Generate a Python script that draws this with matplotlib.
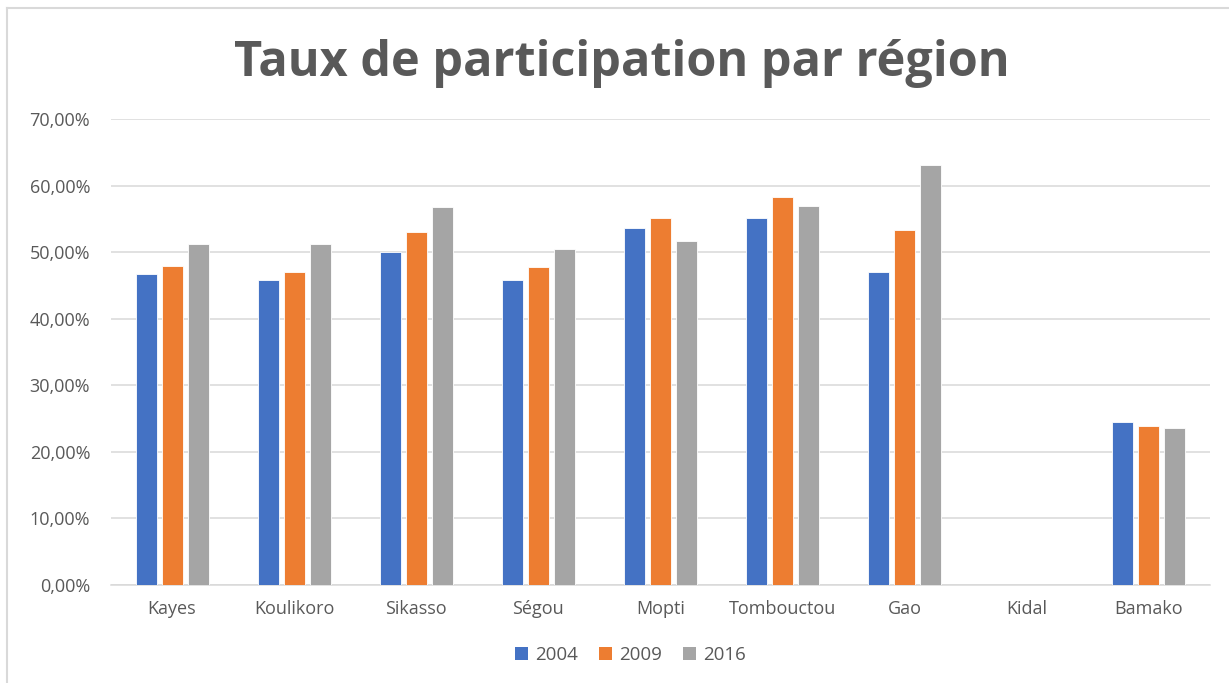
import numpy as np
import matplotlib.pyplot as plt
from matplotlib.ticker import FuncFormatter, MultipleLocator
from matplotlib.patches import Patch

regions = ['Kayes', 'Koulikoro', 'Sikasso', 'Ségou', 'Mopti', 'Tombouctou',
           'Gao', 'Kidal', 'Bamako']
years = ['2004', '2009', '2016']
taux_2004 = [0.467, 0.458, 0.500, 0.458, 0.536, 0.551, 0.470, np.nan, 0.245]
taux_2009 = [0.479, 0.470, 0.530, 0.478, 0.552, 0.583, 0.533, np.nan, 0.239]
taux_2016 = [0.512, 0.512, 0.568, 0.504, 0.517, 0.570, 0.631, np.nan, 0.236]

colors = ['#4472C4', '#ED7D31', '#A5A5A5']
text_color = '#595959'
grid_color = '#D9D9D9'

plt.rcParams['font.family'] = ['Open Sans', 'DejaVu Sans']

fig = plt.figure(figsize=(12.29, 6.83), dpi=100)
ax = fig.add_axes([0.0903, 0.1435, 0.8942, 0.6823])

x = np.arange(len(regions))
width = 0.172
step = 0.213
for i, (vals, c) in enumerate(zip([taux_2004, taux_2009, taux_2016], colors)):
    ax.bar(x + (i - 1) * step, vals, width, color=c, edgecolor='white',
           linewidth=0.6, zorder=3)

ax.set_xlim(-0.5, len(regions) - 0.5)
ax.set_ylim(0, 0.70)
ax.yaxis.set_major_locator(MultipleLocator(0.10))
ax.yaxis.set_major_formatter(FuncFormatter(lambda v, p: ('%.2f%%' % (v * 100)).replace('.', ',')))
ax.set_xticks(x)
ax.set_xticklabels(regions)

ax.grid(axis='y', color=grid_color, linewidth=1.1, zorder=0)
for s in ['top', 'right', 'left']:
    ax.spines[s].set_visible(False)
ax.spines['bottom'].set_color(grid_color)
ax.spines['bottom'].set_linewidth(1.1)
ax.tick_params(length=0, colors=text_color, labelsize=13)
ax.tick_params(axis='y', pad=15)
ax.tick_params(axis='x', pad=11)

fig.text(0.506, 1 - 76 / 683, 'Taux de participation par région', ha='center', va='baseline',
         fontsize=35, fontweight='bold', color=text_color)

handles = [Patch(facecolor=c, label=y) for c, y in zip(colors, years)]
fig.legend(handles=handles, loc='center', bbox_to_anchor=(0.513, 0.041), ncol=3,
           frameon=False, fontsize=13.5, labelcolor=text_color,
           handlelength=0.7, handleheight=0.7, handletextpad=0.4, columnspacing=1.1)

# chart frame (top and left edges visible)
fig.add_artist(plt.Line2D([7 / 1229, 1], [1 - 8 / 683, 1 - 8 / 683], color=grid_color,
                          linewidth=1.5, transform=fig.transFigure))
fig.add_artist(plt.Line2D([7 / 1229, 7 / 1229], [0, 1 - 8 / 683], color=grid_color,
                          linewidth=1.5, transform=fig.transFigure))

fig.savefig('out.png', dpi=100)
